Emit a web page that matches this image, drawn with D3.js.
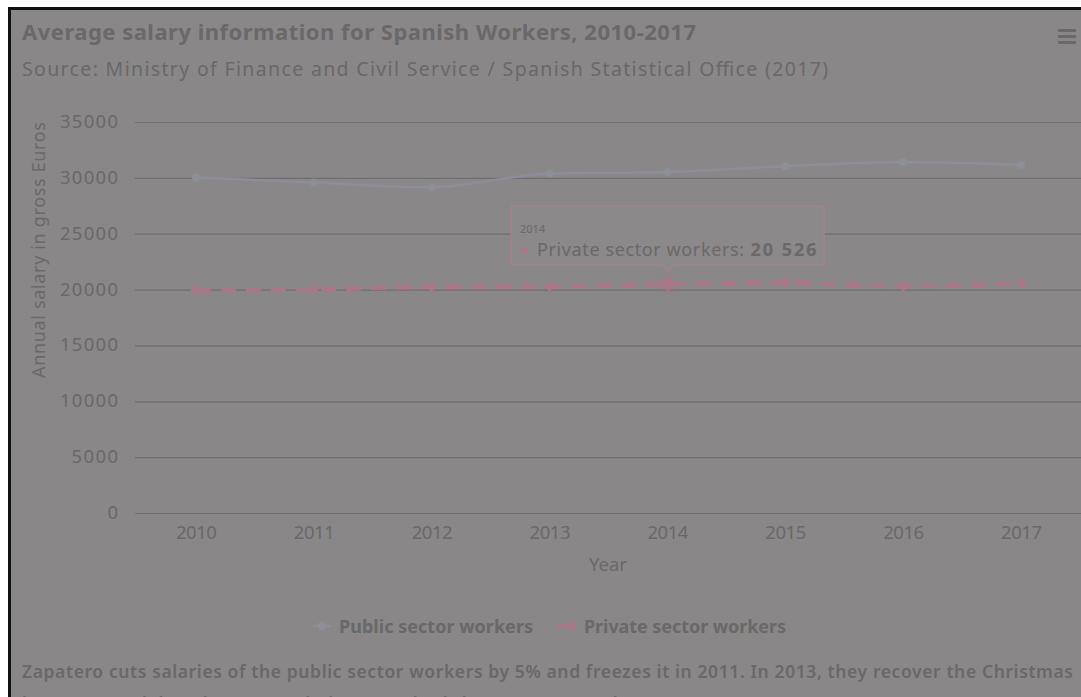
<!DOCTYPE html>
<html>
<head>
<meta charset="utf-8">
<script src="https://cdn.jsdelivr.net/npm/d3@7"></script>
<style>
  html, body { margin: 0; padding: 0; background: #ffffff; overflow: hidden; }
  svg { display: block; }
  text { font-family: "Noto Sans", "Open Sans", sans-serif; }
</style>
</head>
<body>
<svg id="chart" width="1081" height="697"></svg>
<script>
// Salary data (annual gross Euros)
const years = ["2010", "2011", "2012", "2013", "2014", "2015", "2016", "2017"];
const publicSector = [30030, 29580, 29160, 30390, 30530, 31040, 31420, 31160];
const privateSector = [19950, 20040, 20280, 20300, 20526, 20640, 20330, 20600];
const yTicks = [0, 5000, 10000, 15000, 20000, 25000, 30000, 35000];

const seriesNames = ["Public sector workers", "Private sector workers"];
const titleText = "Average salary information for Spanish Workers, 2010-2017";
const subtitleText = "Source: Ministry of Finance and Civil Service / Spanish Statistical Office (2017)";
const captionLines = [
  "Zapatero cuts salaries of the public sector workers by 5% and freezes it in 2011. In 2013, they recover the Christmas",
  "bonus pay and then the sector salaries grow slowly between 2015 and 2016."
];
const hovered = { series: 1, index: 4 };

const C = {
  bg: "#898788",
  text: "#6a6868",
  grid: "#6f6d6d",
  pub: "#8d8e98",
  priv: "#a8788a"
};

const svg = d3.select("#chart");

// stretch a text's letter spacing to a given width
function fit(sel, w) {
  sel.attr("textLength", w).attr("lengthAdjust", "spacing");
  return sel;
}

// dimmed container with a dark frame
svg.append("rect").attr("x", 9.5).attr("y", 8.5).attr("width", 1100).attr("height", 720)
  .attr("fill", C.bg).attr("stroke", "#111").attr("stroke-width", 3);

const plot = { left: 137, right: 1080, top: 122, bottom: 513 };

const x = d3.scalePoint().domain(years).range([plot.left, plot.right]).padding(0.5);
const y = d3.scaleLinear().domain([0, 35000]).range([plot.bottom, plot.top]);

// titles
fit(svg.append("text").attr("x", 22).attr("y", 40).attr("font-size", 22).attr("font-weight", 700)
  .attr("fill", C.text).text(titleText), 674);
fit(svg.append("text").attr("x", 22).attr("y", 76).attr("font-size", 19.5)
  .attr("fill", C.text).text(subtitleText), 806);

// menu icon
svg.append("g").selectAll("rect").data([0, 1, 2]).join("rect")
  .attr("x", 1058).attr("y", d => 29 + d * 6).attr("width", 18).attr("height", 3).attr("rx", 1)
  .attr("fill", C.text);

// y axis with gridlines
const yAxis = d3.axisLeft(y).tickValues(yTicks).tickSize(-(plot.right - plot.left + 3)).tickPadding(17).tickFormat(d3.format("d"));
const gy = svg.append("g").attr("transform", `translate(${plot.left - 2},0)`).call(yAxis);
gy.select(".domain").remove();
gy.selectAll(".tick line").attr("stroke", C.grid).attr("stroke-width", 1.2);
gy.selectAll(".tick text").attr("fill", C.text).attr("font-size", 18.5)
  .attr("font-family", "'Noto Sans',sans-serif").attr("dy", "0.3em")
  .each(function (d) { const s = String(d).length; d3.select(this).attr("textLength", s * 11.6).attr("lengthAdjust", "spacing"); });

// x axis labels
const xAxis = d3.axisBottom(x).tickSize(0).tickPadding(13);
const gx = svg.append("g").attr("transform", `translate(0,${plot.bottom})`).call(xAxis);
gx.select(".domain").remove();
gx.selectAll(".tick text").attr("fill", C.text).attr("font-size", 18.5)
  .attr("font-family", "'Noto Sans',sans-serif").attr("textLength", 41).attr("lengthAdjust", "spacing");

// axis titles
fit(svg.append("text").attr("transform", `translate(45,${(plot.top + 378) / 2}) rotate(-90)`)
  .attr("text-anchor", "middle").attr("font-size", 18).attr("fill", C.text)
  .text("Annual salary in gross Euros"), 256);
svg.append("text").attr("x", 608).attr("y", 571).attr("text-anchor", "middle")
  .attr("font-size", 18.5).attr("fill", C.text).text("Year");

// lines
const line = d3.line().x((d, i) => x(years[i])).y(d => y(d)).curve(d3.curveMonotoneX);

svg.append("path").datum(publicSector).attr("d", line).attr("fill", "none")
  .attr("stroke", C.pub).attr("stroke-width", 2.5);
svg.append("g").selectAll("circle").data(publicSector).join("circle")
  .attr("cx", (d, i) => x(years[i])).attr("cy", d => y(d)).attr("r", 4).attr("fill", C.pub);

svg.append("path").datum(privateSector).attr("d", line).attr("fill", "none")
  .attr("stroke", C.priv).attr("stroke-width", 5).attr("stroke-dasharray", "15,10");

// hover halo
svg.append("circle").attr("cx", x(years[hovered.index])).attr("cy", y(privateSector[hovered.index]))
  .attr("r", 11).attr("fill", C.priv).attr("opacity", 0.22);

const diamond = d3.symbol().type(d3.symbolDiamond2);
svg.append("g").selectAll("path").data(privateSector).join("path")
  .attr("transform", (d, i) => `translate(${x(years[i])},${y(d)})`)
  .attr("d", (d, i) => diamond.size(i === hovered.index ? 160 : 80)())
  .attr("fill", C.priv);

// legend
const legend = svg.append("g").attr("font-size", 18).attr("font-weight", 700).attr("fill", C.text);
const lg = [{ x: 313, w: 194, name: seriesNames[0], color: C.pub, shape: "circle" },
            { x: 558, w: 202, name: seriesNames[1], color: C.priv, shape: "diamond" }];
lg.forEach(d => {
  legend.append("line").attr("x1", d.x).attr("x2", d.x + 18).attr("y1", 626).attr("y2", 626)
    .attr("stroke", d.color).attr("stroke-width", d.shape === "circle" ? 2.5 : 4);
  if (d.shape === "circle") {
    legend.append("circle").attr("cx", d.x + 9).attr("cy", 626).attr("r", 4.5).attr("fill", d.color);
  } else {
    legend.append("path").attr("transform", `translate(${d.x + 13},626)`)
      .attr("d", d3.symbol().type(d3.symbolDiamond2).size(80)()).attr("fill", d.color);
  }
  fit(legend.append("text").attr("x", d.x + 26).attr("y", 632.5).text(d.name), d.w);
});

// tooltip
const tx = x(years[hovered.index]);
const tb = { x: 511, y: 206, w: 313, h: 59 };
svg.append("path")
  .attr("d", `M${tb.x},${tb.y} H${tb.x + tb.w} V${tb.y + tb.h} H${tx + 6} L${tx},${tb.y + tb.h + 6} L${tx - 6},${tb.y + tb.h} H${tb.x} Z`)
  .attr("fill", "#8b898a").attr("stroke", "#a9808f").attr("stroke-width", 1.2);
svg.append("text").attr("x", 520).attr("y", 233).attr("font-size", 11).attr("fill", C.text)
  .text(years[hovered.index]);
svg.append("circle").attr("cx", 525).attr("cy", 250).attr("r", 3.5).attr("fill", C.priv);
const tt = svg.append("text").attr("x", 537).attr("y", 256).attr("font-size", 18).attr("fill", C.text);
tt.append("tspan").attr("textLength", 207).attr("lengthAdjust", "spacing").text(seriesNames[1] + ":");
tt.append("tspan").attr("font-weight", 700).attr("dx", 6).attr("textLength", 66).attr("lengthAdjust", "spacing")
  .text(d3.format(",")(privateSector[hovered.index]).replace(/,/g, " "));

// caption below the chart
svg.append("g").selectAll("text").data(captionLines).join("text")
  .attr("x", 22).attr("y", (d, i) => 678 + i * 32).attr("font-size", 17.5).attr("font-weight", 600)
  .attr("fill", C.text)
  .each(function (d, i) { if (i === 0) fit(d3.select(this), 1051); })
  .text(d => d);
</script>
</body>
</html>
